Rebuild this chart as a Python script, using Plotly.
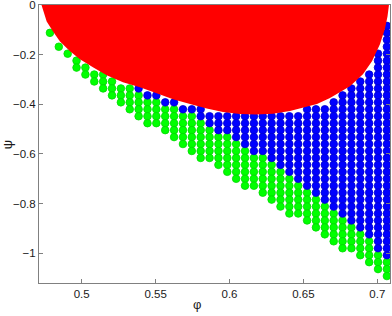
import plotly.graph_objects as go

# grid columns (phi) and row step (psi)
phi_cols = [0.4785, 0.4845, 0.4905, 0.4965, 0.5025, 0.5085, 0.5145, 0.5205, 0.5265, 0.5325,
            0.5385, 0.5445, 0.5505, 0.5565, 0.5625, 0.5685, 0.5745, 0.5805, 0.5865, 0.5925,
            0.5985, 0.6045, 0.6105, 0.6165, 0.6225, 0.6285, 0.6345, 0.6405, 0.6465, 0.6525,
            0.6585, 0.6645, 0.6705, 0.6765, 0.6825, 0.6885, 0.6945, 0.7005, 0.7065]
psi_step = 0.028

# per column row indices (row j -> psi = -psi_step*j)
top_row = [4, 6, 7, 8, 9, 10, 10, 11, 12, 12,
           12, 13, 13, 14, 14, 15, 15, 15, 16, 16,
           16, 16, 16, 16, 16, 16, 16, 16, 16, 15,
           15, 15, 14, 13, 12, 11, 10, 7, 3]
green_top = [4, 6, 7, 8, 9, 10, 10, 11, 12, 12,
             13, 14, 14, 15, 15, 16, 16, 17, 18, 19,
             19, 20, 21, 22, 22, 23, 24, 25, 26, 27,
             28, 29, 30, 31, 32, 33, 34, 36, 37]
bottom_row = [4, 6, 7, 9, 10, 11, 12, 13, 14, 15,
              16, 17, 17, 18, 19, 20, 21, 22, 22, 23,
              24, 25, 26, 26, 27, 28, 29, 30, 30, 31,
              32, 33, 34, 35, 35, 36, 37, 38, 39]

# red region boundary
red_phi = [0.4728, 0.4745, 0.4763, 0.4806, 0.4853, 0.4921, 0.4988, 0.5076, 0.5169, 0.5279,
           0.5394, 0.5507, 0.5618, 0.5733, 0.5846, 0.5956, 0.6071, 0.6179, 0.6294, 0.6409,
           0.6511, 0.6592, 0.6680, 0.6748, 0.6815, 0.6903, 0.6964, 0.7018, 0.7052, 0.7069, 0.7079]
red_psi = [0.0, -0.0341, -0.0662, -0.1063, -0.1464, -0.1865, -0.2186, -0.2507, -0.2828, -0.3109,
           -0.3309, -0.3550, -0.3791, -0.3991, -0.4172, -0.4312, -0.4392, -0.4412, -0.4380, -0.4272,
           -0.4112, -0.3991, -0.3750, -0.3510, -0.3269, -0.2788, -0.2266, -0.1584, -0.0943, -0.0461, 0.0]

x_ticks = [0.5, 0.55, 0.6, 0.65, 0.7]
x_labels = ["0.5", "0.55", "0.6", "0.65", "0.7"]
y_ticks = [0, -0.2, -0.4, -0.6, -0.8, -1.0]
y_labels = ["0", "\u22120.2", "\u22120.4", "\u22120.6", "\u22120.8", "\u22121"]

gx, gy, bx, by = [], [], [], []
for c, p in enumerate(phi_cols):
    for j in range(top_row[c], green_top[c]):
        bx.append(p); by.append(-psi_step * j)
    for j in range(green_top[c], bottom_row[c] + 1):
        gx.append(p); gy.append(-psi_step * j)

fig = go.Figure()
fig.add_trace(go.Scatter(x=gx, y=gy, mode="markers",
                         marker=dict(size=7.6, color="#00ff00",
                                     line=dict(width=0.8, color="#00d800")),
                         hoverinfo="skip", showlegend=False))
fig.add_trace(go.Scatter(x=bx, y=by, mode="markers",
                         marker=dict(size=7.6, color="#0000ff",
                                     line=dict(width=0.8, color="#0000d0")),
                         hoverinfo="skip", showlegend=False))
fig.add_trace(go.Scatter(x=red_phi, y=red_psi, mode="lines", fill="toself",
                         fillcolor="#ff0000", line=dict(width=0, color="#ff0000"),
                         hoverinfo="skip", showlegend=False))

axis_font = dict(family="Liberation Sans, Arial, sans-serif", size=11.5, color="#1a1a1a")
title_font = dict(family="Liberation Sans, Arial, sans-serif", size=13, color="#1a1a1a")
fig.update_layout(
    width=392, height=316,
    margin=dict(l=39, r=2, t=5, b=33, autoexpand=False),
    paper_bgcolor="white", plot_bgcolor="white",
    xaxis=dict(range=[0.4711, 0.7086], tickvals=x_ticks, ticktext=x_labels,
               ticks="inside", ticklen=4, tickcolor="#808080", showline=True,
               linecolor="#808080", linewidth=1, mirror="ticks", showgrid=False,
               zeroline=False, tickfont=axis_font, layer="below traces",
               automargin=False, ticklabeloverflow="allow"),
    yaxis=dict(range=[-1.12, 0.0002], tickvals=y_ticks, ticktext=y_labels,
               ticks="inside", ticklen=4, tickcolor="#808080", showline=True,
               linecolor="#808080", linewidth=1, mirror="ticks", showgrid=False,
               zeroline=False, tickfont=axis_font, automargin=False,
               ticklabeloverflow="allow"),
    annotations=[
        dict(text="\u03c6", xref="paper", yref="paper", x=0.45, y=-0.076,
             xanchor="center", yanchor="middle", showarrow=False, font=title_font),
        dict(text="\u03c8", xref="paper", yref="paper", x=-0.09, y=0.497,
             xanchor="center", yanchor="middle", showarrow=False, textangle=-90,
             font=title_font),
    ],
)
fig.write_html("out.html", config={"displayModeBar": False},
               post_script="document.body.style.margin='0px';document.body.style.padding='0px';")
